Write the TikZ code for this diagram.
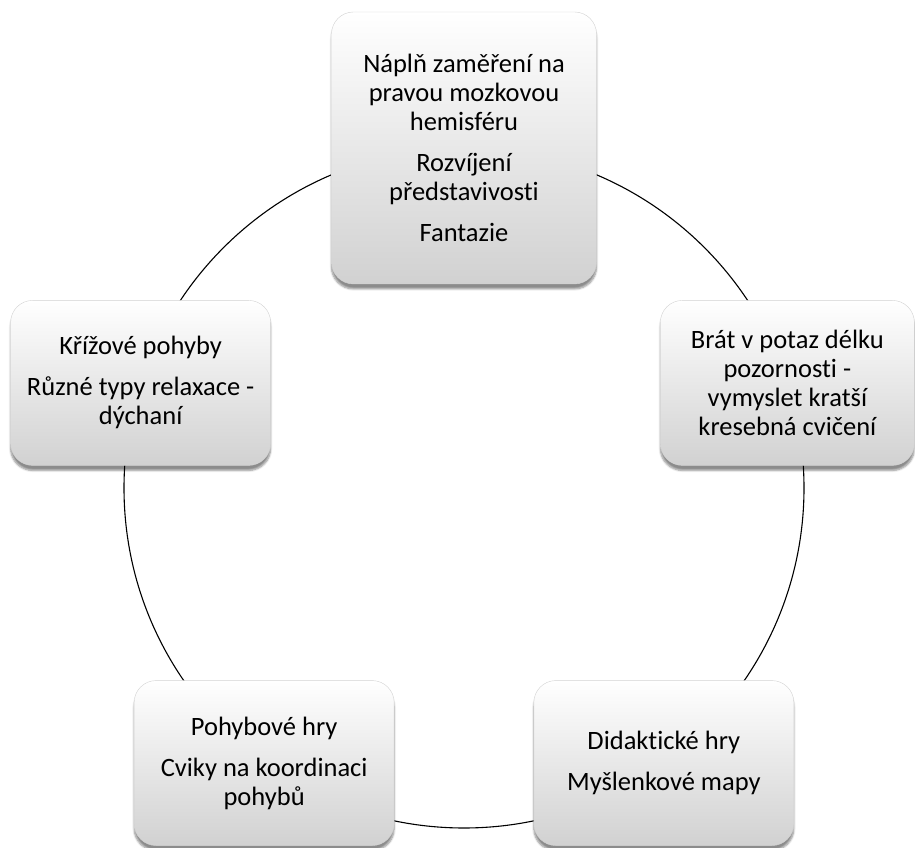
\documentclass[tikz,border=0pt]{standalone}
\usepackage{fontspec}
\setmainfont{Carlito}[Ligatures=NoCommon]
\usepackage{tikz}
\usetikzlibrary{shapes,positioning,shadows.blur}

\begin{document}
\begin{tikzpicture}[
    x=1pt, y=1pt,
    box/.style={rectangle, rounded corners=22pt, minimum width=260pt, minimum height=165pt, align=center,
        top color=white, bottom color=gray!36, draw=gray!35, line width=0.4pt,
        blur shadow={shadow xshift=0pt, shadow yshift=-5pt, shadow blur steps=6, shadow opacity=45},
        font=\fontsize{26.5}{29}\selectfont},
    ring/.style={line width=1.1pt}
]
    \useasboundingbox (0,0) rectangle (915,848);

    % Center of the cycle
    \coordinate (mid) at (464,360);
    \draw[ring] (mid) circle (340);

    % Top
    \node[box, minimum height=272pt, minimum width=265pt] (fantazie) at ([shift={(90:340)}]mid)
        {Náplň zaměření na\\pravou mozkovou\\hemisféru\\[12pt]Rozvíjení\\představivosti\\[12pt]Fantazie};

    % Right
    \node[box, minimum width=254pt] (pozornost) at ([shift={(18:340)}]mid)
        {Brát v potaz délku\\pozornosti -\\vymyslet kratší\\kresebná cvičení};

    % Bottom right
    \node[box] (didaktika) at ([shift={(-54:340)}]mid)
        {Didaktické hry\\[12pt]Myšlenkové mapy};

    % Bottom left
    \node[box] (pohyb) at ([shift={(234:340)}]mid)
        {Pohybové hry\\[12pt]Cviky na koordinaci\\pohybů};

    % Left
    \node[box] (krizove) at ([shift={(162:340)}]mid)
        {Křížové pohyby\\[12pt]Různé typy relaxace -\\dýchaní};

\end{tikzpicture}
\end{document}
